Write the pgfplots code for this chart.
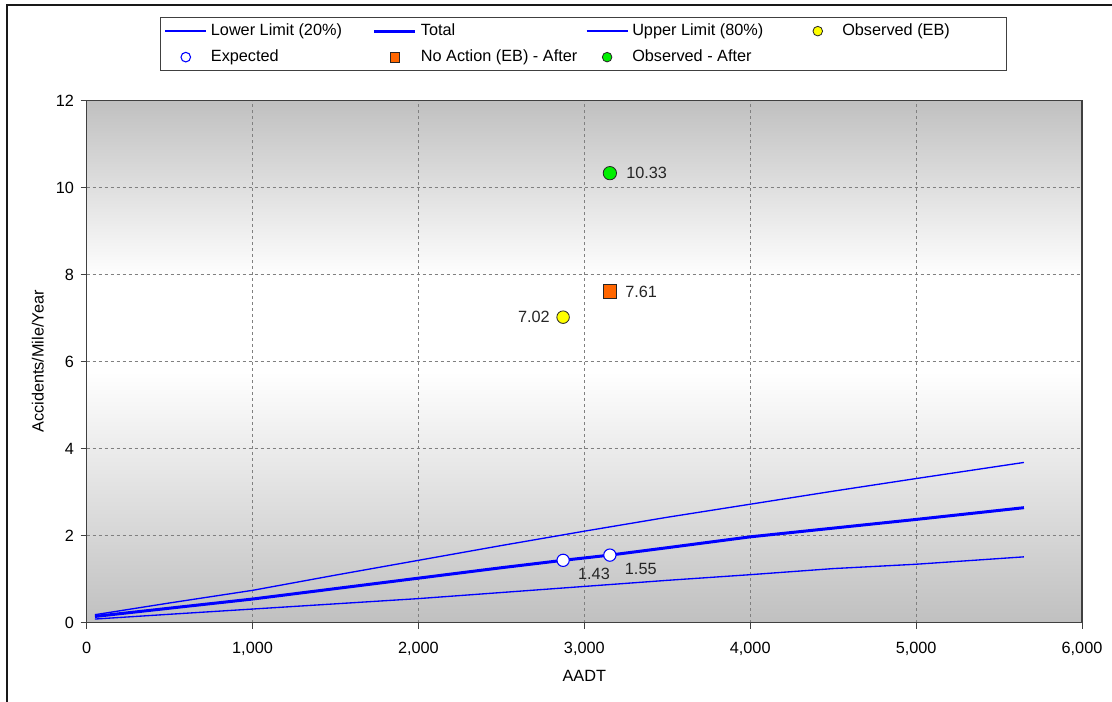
\documentclass[border=0pt]{standalone}
\usepackage{fontspec}
\setmainfont{Liberation Sans}
\usepackage{pgfplots}
\pgfplotsset{compat=1.18}
\definecolor{bgd}{HTML}{C0C0C0}
\definecolor{axgray}{HTML}{404040}
\definecolor{gridgray}{HTML}{808080}
\definecolor{lineblue}{HTML}{0000FF}
\definecolor{obsyellow}{HTML}{FFFF00}
\definecolor{naorange}{HTML}{FF6600}
\definecolor{obsgreen}{HTML}{00F000}
\pgfdeclareverticalshading{plotbg}{100bp}{color(0bp)=(bgd); color(25bp)=(bgd); color(49bp)=(white); color(58bp)=(white); color(75bp)=(bgd); color(100bp)=(bgd)}

\begin{document}
\begin{tikzpicture}[font=\fontsize{12.2}{14.5}\selectfont]
\path[use as bounding box] (-65pt,-59.6pt) rectangle (769pt,466.9pt);
\draw[line width=1.5pt, black!90] (-59.8pt,-70pt) -- (-59.8pt,463.1pt) -- (775pt,463.1pt);
\begin{axis}[
  at={(0,0)}, anchor=south west,
  scale only axis, width=746.5pt, height=391.5pt,
  xmin=0, xmax=6000, ymin=0, ymax=12,
  xtick={0,1000,...,6000}, ytick={0,2,...,12},
  xtick pos=bottom, ytick pos=left,
  scaled x ticks=false,
  xticklabel style={yshift=-7pt, /pgf/number format/.cd, 1000 sep={,}},
  yticklabel style={xshift=-1.5pt},
  /pgf/number format/assume math mode=true,
  grid=major,
  major grid style={gridgray, line width=0.75pt, dash pattern=on 2.25pt off 2.25pt},
  axis line style={axgray, line width=1.1pt},
  tick align=outside, major tick length=4.5pt,
  tick style={axgray, line width=0.75pt},
  axis background/.style={shade, shading=plotbg},
  xlabel={AADT}, ylabel={Accidents/Mile/Year},
  every axis x label/.style={at={(axis description cs:0.5,-0.1025)}, anchor=center},
  every axis y label/.style={at={(axis description cs:-0.049,0.5)}, rotate=90, anchor=center},
  legend columns=4,
  legend cell align=left,
  legend style={at={(0.0736,1.16)}, anchor=north west, draw=axgray, line width=1pt,
    fill=white, inner xsep=3pt, inner ysep=2.6pt, column sep=0pt, row sep=4.5pt,
    nodes={inner xsep=3pt, inner ysep=2pt, text height=8.5pt, text depth=2.5pt}},
  legend image code/.code={\path[draw=none, fill=none] (0pt,-4pt) rectangle (30.75pt,4pt);
    \draw[mark repeat=2,mark phase=2,#1] plot coordinates {(0pt,0pt) (15.4pt,0pt) (30.75pt,0pt)};},
  legend image post style={mark size=3.6pt},
]
% Lower Limit (20%)
\addplot[lineblue, line width=1pt, no marks] coordinates {
 (50,0.08) (500,0.19) (1000,0.31) (1500,0.43) (2000,0.55) (2500,0.69)
 (3000,0.83) (3500,0.97) (4000,1.10) (4500,1.24) (5000,1.34) (5650,1.51)};
\addlegendentry{\makebox[118.5pt][l]{Lower Limit (20\%)}}
% Total
\addplot[lineblue, line width=2.25pt, no marks] coordinates {
 (50,0.14) (500,0.33) (1000,0.54) (1500,0.78) (2000,1.02) (2500,1.26)
 (2872,1.43) (3154,1.55) (3500,1.72) (4000,1.97) (4500,2.17) (5000,2.37) (5650,2.64)};
\addlegendentry{\makebox[120.75pt][l]{Total}}
% Upper Limit (80%)
\addplot[lineblue, line width=1pt, no marks] coordinates {
 (50,0.18) (500,0.45) (1000,0.74) (1500,1.09) (2000,1.43) (2500,1.77)
 (3000,2.10) (3500,2.42) (4000,2.72) (4500,3.02) (5000,3.31) (5650,3.68)};
\addlegendentry{\makebox[120.75pt][l]{Upper Limit (80\%)}}
% Observed (EB)
\addplot[only marks, mark=*, mark size=4.7pt, line width=0.6pt,
  mark options={fill=obsyellow, draw=black!85, line width=0.6pt},
  nodes near coords, point meta=explicit symbolic,
  nodes near coords style={anchor=east, inner sep=0pt, xshift=-9.75pt, text=black!85}]
  coordinates {(2872,7.02) [7.02]};
\addlegendentry{\makebox[117pt][l]{Observed (EB)}}
% Expected
\addplot[only marks, mark=*, mark size=4.6pt, line width=0.8pt,
  mark options={fill=white, draw=lineblue, line width=0.8pt},
  nodes near coords, point meta=explicit symbolic,
  nodes near coords style={anchor=north west, inner sep=0pt, xshift=10.9pt, yshift=-5.6pt, text=black!85}]
  coordinates {(2872,1.43) [1.43] (3154,1.55) [1.55]};
\addlegendentry{\makebox[118.5pt][l]{Expected}}
% No Action (EB) - After
\addplot[only marks, mark=square*, mark size=5.2pt, line width=0.6pt,
  mark options={fill=naorange, draw=black!85, line width=0.6pt},
  nodes near coords, point meta=explicit symbolic,
  nodes near coords style={anchor=west, inner sep=0pt, xshift=11.25pt, text=black!85}]
  coordinates {(3154,7.61) [7.61]};
\addlegendentry{\makebox[120.75pt][l]{No Action (EB) - After}}
% Observed - After
\addplot[only marks, mark=*, mark size=5pt, line width=0.6pt,
  mark options={fill=obsgreen, draw=black!85, line width=0.6pt},
  nodes near coords, point meta=explicit symbolic,
  nodes near coords style={anchor=west, inner sep=0pt, xshift=12pt, text=black!85}]
  coordinates {(3154,10.33) [10.33]};
\addlegendentry{\makebox[120.75pt][l]{Observed - After}}
\end{axis}
\end{tikzpicture}
\end{document}
